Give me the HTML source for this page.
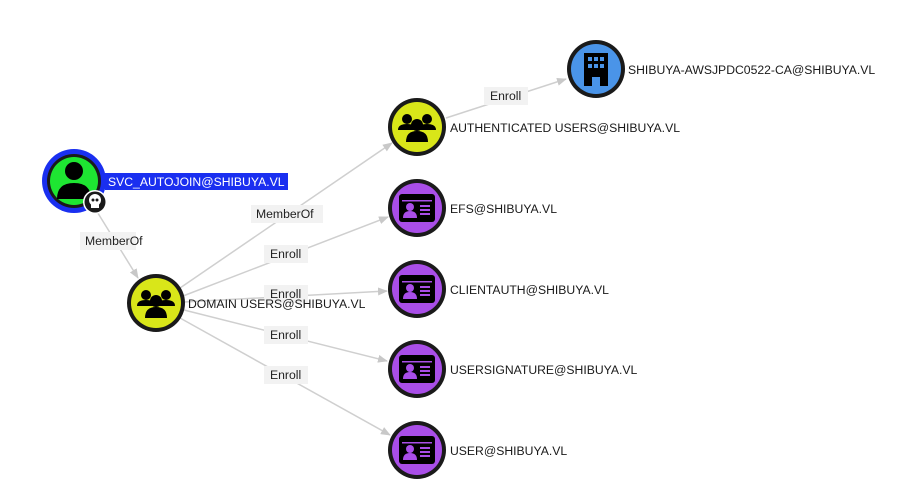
<!DOCTYPE html>
<html><head><meta charset="utf-8"><style>
html,body{margin:0;padding:0;background:#fff;}
svg{display:block;font-family:"Liberation Sans",Arial,sans-serif;}
.lbl{font-size:12.2px;fill:#1a1a1a;}
.el{font-size:12.2px;fill:#222;}
</style></head><body>
<svg width="902" height="501" viewBox="0 0 902 501" xmlns="http://www.w3.org/2000/svg">
<defs>
<marker id="ar" markerWidth="10" markerHeight="8" refX="9" refY="4" orient="auto" markerUnits="userSpaceOnUse">
<path d="M0,0 L10,4 L0,8 z" fill="#c8c8c8"/></marker>
<g id="card">
<rect x="-18" y="-14" width="36" height="28" rx="3" fill="#000"/>
<rect x="-15" y="-8" width="30" height="1.5" fill="#a94ee8"/>
<circle cx="-7" cy="-1" r="4" fill="#a94ee8"/>
<path d="M-14,10 q0,-7 7,-7 q7,0 7,7 z" fill="#a94ee8"/>
<rect x="3" y="-3" width="10" height="2" fill="#a94ee8"/>
<rect x="3" y="1" width="10" height="2" fill="#a94ee8"/>
<rect x="3" y="5" width="10" height="2" fill="#a94ee8"/>
</g>
<g id="grp">
<circle cx="-10" cy="-8" r="5"/><circle cx="10" cy="-8" r="5"/>
<path d="M-19,3 q0,-6 9,-6 q9,0 9,6 z"/><path d="M1,3 q0,-6 9,-6 q9,0 9,6 z"/>
<circle cx="0" cy="-2" r="6"/>
<path d="M-11,15 q0,-11 11,-11 q11,0 11,11 z"/>
</g>
</defs>
<g stroke="#cfcfcf" stroke-width="1.5" fill="none">
<line x1="96" y1="210" x2="138" y2="278" marker-end="url(#ar)"/>
<line x1="180" y1="288" x2="392" y2="143" marker-end="url(#ar)"/>
<line x1="183" y1="296" x2="388" y2="217" marker-end="url(#ar)"/>
<line x1="184" y1="302" x2="387" y2="291" marker-end="url(#ar)"/>
<line x1="184" y1="310" x2="387" y2="361" marker-end="url(#ar)"/>
<line x1="180" y1="318" x2="390" y2="435" marker-end="url(#ar)"/>
<line x1="446" y1="118" x2="566" y2="79" marker-end="url(#ar)"/>
</g>
<g fill="#f2f2f2">
<rect x="80" y="232" width="56" height="18"/>
<rect x="251" y="205" width="72" height="18"/>
<rect x="264" y="245" width="44" height="18"/>
<rect x="264" y="285" width="44" height="18"/>
<rect x="264" y="326" width="44" height="18"/>
<rect x="264" y="366" width="44" height="18"/>
<rect x="484" y="87" width="44" height="18"/>
</g>
<text class="el" x="85" y="245">MemberOf</text>
<text class="el" x="256" y="218">MemberOf</text>
<text class="el" x="270" y="258">Enroll</text>
<text class="el" x="270" y="298">Enroll</text>
<text class="el" x="270" y="339">Enroll</text>
<text class="el" x="270" y="379">Enroll</text>
<text class="el" x="490" y="100">Enroll</text>

<circle cx="74" cy="181" r="32" fill="#1a2ff0"/>
<circle cx="74" cy="181" r="27" fill="#1a1a1a"/>
<circle cx="74" cy="181" r="24" fill="#1ee632"/>
<circle cx="74" cy="171" r="9" fill="#000"/>
<path d="M57,199 q0,-16 17,-16 q17,0 17,16 z" fill="#000"/>
<circle cx="95" cy="202" r="12" fill="#fff"/>
<circle cx="95" cy="202" r="10.5" fill="#1a1a1a"/>
<circle cx="95" cy="200" r="6" fill="#fff"/>
<rect x="91" y="204" width="8" height="4" fill="#fff"/>
<circle cx="93" cy="200" r="1.5" fill="#1a1a1a"/><circle cx="97" cy="200" r="1.5" fill="#1a1a1a"/>
<rect x="105" y="173" width="183" height="17" fill="#1a2ff0"/>
<text class="lbl" x="108" y="186" style="fill:#fff">SVC_AUTOJOIN@SHIBUYA.VL</text>

<circle cx="156" cy="303" r="29" fill="#1a1a1a"/>
<circle cx="156" cy="303" r="25" fill="#d9e619"/>
<use href="#grp" x="156" y="303" fill="#000"/>
<text class="lbl" x="188" y="308">DOMAIN USERS@SHIBUYA.VL</text>

<circle cx="417" cy="127" r="29" fill="#1a1a1a"/>
<circle cx="417" cy="127" r="25" fill="#d9e619"/>
<use href="#grp" x="417" y="127" fill="#000"/>
<text class="lbl" x="450" y="132">AUTHENTICATED USERS@SHIBUYA.VL</text>

<circle cx="596" cy="69" r="29" fill="#1a1a1a"/>
<circle cx="596" cy="69" r="25" fill="#4a94e8"/>
<path d="M584,53 h24 v33 h-8 v-9 h-8 v9 h-8 z" fill="#000"/>
<g fill="#4a94e8">
<rect x="588" y="57" width="4" height="4"/><rect x="594" y="57" width="4" height="4"/><rect x="600" y="57" width="4" height="4"/>
<rect x="588" y="64" width="4" height="4"/><rect x="594" y="64" width="4" height="4"/><rect x="600" y="64" width="4" height="4"/>
</g>
<text class="lbl" x="628" y="74">SHIBUYA-AWSJPDC0522-CA@SHIBUYA.VL</text>

<g>
<circle cx="417" cy="208" r="29" fill="#1a1a1a"/><circle cx="417" cy="208" r="25" fill="#a94ee8"/>
<use href="#card" x="417" y="208"/>
<circle cx="417" cy="289" r="29" fill="#1a1a1a"/><circle cx="417" cy="289" r="25" fill="#a94ee8"/>
<use href="#card" x="417" y="289"/>
<circle cx="417" cy="369" r="29" fill="#1a1a1a"/><circle cx="417" cy="369" r="25" fill="#a94ee8"/>
<use href="#card" x="417" y="369"/>
<circle cx="417" cy="450" r="29" fill="#1a1a1a"/><circle cx="417" cy="450" r="25" fill="#a94ee8"/>
<use href="#card" x="417" y="450"/>
</g>
<text class="lbl" x="450" y="213">EFS@SHIBUYA.VL</text>
<text class="lbl" x="450" y="294">CLIENTAUTH@SHIBUYA.VL</text>
<text class="lbl" x="450" y="374">USERSIGNATURE@SHIBUYA.VL</text>
<text class="lbl" x="450" y="455">USER@SHIBUYA.VL</text>
</svg>
</body></html>
